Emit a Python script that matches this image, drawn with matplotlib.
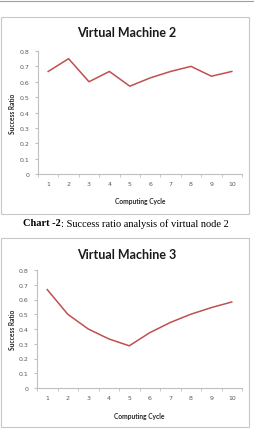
import matplotlib
matplotlib.use("Agg")
import matplotlib.pyplot as plt
from matplotlib.patches import Rectangle
from matplotlib.lines import Line2D

W, H = 254, 431

cycles = [1, 2, 3, 4, 5, 6, 7, 8, 9, 10]
vm2_ratio = [0.667, 0.75, 0.6, 0.667, 0.571, 0.625, 0.667, 0.7, 0.636, 0.667]
vm3_ratio = [0.667, 0.5, 0.4, 0.333, 0.286, 0.375, 0.444, 0.5, 0.545, 0.583]
y_ticks = [0, 0.1, 0.2, 0.3, 0.4, 0.5, 0.6, 0.7, 0.8]
y_labels = ["0", "0.1", "0.2", "0.3", "0.4", "0.5", "0.6", "0.7", "0.8"]
caption_bold = "Chart -2"
caption_rest = ": Success ratio analysis of virtual node 2"

LINE_COLOR = "#c0504d"
AXIS_COLOR = "#bfbfbf"
TICK_COLOR = "#595959"
TITLE_FONT = "Lato"
CAPTION_FONT = "Liberation Serif"


def fx(px):
    return px / W


def fy(py):
    return 1 - py / H


def draw_chart(fig, box, ax_rect, title, values, title_y, xlab_y):
    # outer chart frame
    x0, y0, x1, y1 = box
    fig.patches.append(Rectangle((fx(x0), fy(y1)), fx(x1 - x0), (y1 - y0) / H,
                                 transform=fig.transFigure, fill=False,
                                 edgecolor="#c8c8c8", linewidth=0.8))
    fig.text(fx((x0 + x1) / 2 + 2), fy(title_y), title, ha="center", va="center",
             fontsize=9, fontweight="bold", family=TITLE_FONT, color="#1a1a1a")

    l, t, r, b = ax_rect
    ax = fig.add_axes([fx(l), fy(b), fx(r - l), (b - t) / H])
    ax.plot(cycles, values, color=LINE_COLOR, linewidth=1.1)
    ax.set_xlim(0.5, 10.5)
    ax.set_ylim(0, 0.8)
    ax.set_yticks(y_ticks)
    ax.set_yticklabels(y_labels)
    ax.set_xticks(cycles)
    ax.set_xticks([c + 0.5 for c in [0] + cycles], minor=True)
    ax.tick_params(axis="x", which="major", length=0, pad=5,
                   labelsize=4.5, labelcolor=TICK_COLOR)
    ax.tick_params(axis="x", which="minor", length=2, color=AXIS_COLOR,
                   direction="out")
    ax.tick_params(axis="y", length=2, color=AXIS_COLOR, pad=4,
                   labelsize=4.5, labelcolor=TICK_COLOR)
    for s in ["top", "right"]:
        ax.spines[s].set_visible(False)
    for s in ["left", "bottom"]:
        ax.spines[s].set_color(AXIS_COLOR)
        ax.spines[s].set_linewidth(0.8)
    fig.text(fx((l + r) / 2), fy(xlab_y), "Computing Cycle", ha="center",
             va="center", fontsize=4.8, fontweight="bold", family=TITLE_FONT,
             color="#262626")
    fig.text(fx(13), fy((t + b) / 2), "Success Ratio", ha="center", va="center",
             rotation=90, fontsize=4.8, fontweight="bold", family=TITLE_FONT,
             color="#262626")
    return ax


fig = plt.figure(figsize=(W / 100, H / 100), dpi=100)

# top rule
fig.add_artist(Line2D([0, 1], [fy(2), fy(2)], transform=fig.transFigure,
                      color="#a0a0a0", linewidth=0.8))

draw_chart(fig, (1, 18, 249, 215), (38, 52, 242, 175),
           "Virtual Machine 2", vm2_ratio, title_y=33, xlab_y=202)

# caption: bold lead-in followed by regular text, centred as one line
renderer = fig.canvas.get_renderer()
t1 = fig.text(0, fy(224), caption_bold, ha="left", va="center", fontsize=7.5,
              fontweight="bold", family=CAPTION_FONT)
t2 = fig.text(0, fy(224), caption_rest, ha="left", va="center", fontsize=7.5,
              family=CAPTION_FONT)
w1 = t1.get_window_extent(renderer).width
w2 = t2.get_window_extent(renderer).width
start = (W - (w1 + w2)) / 2 - 1
t1.set_x(fx(start))
t2.set_x(fx(start + w1))

draw_chart(fig, (1, 239, 249, 428), (37, 271, 242, 389),
           "Virtual Machine 3", vm3_ratio, title_y=255, xlab_y=417)

fig.savefig("out.png", dpi=100)
